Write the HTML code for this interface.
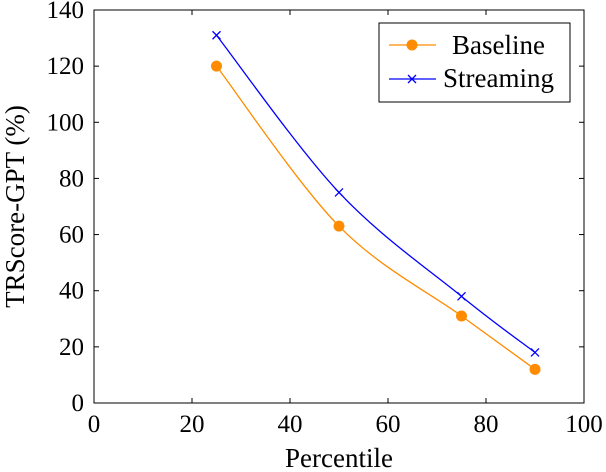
<!DOCTYPE html>
<html><head><meta charset="utf-8"><style>
html,body{margin:0;padding:0;background:#fff;}
svg{display:block;font-family:"Liberation Serif",serif;}
</style></head><body>
<svg id="chart" width="606" height="472" viewBox="0 0 606 472"></svg>
<script>
const categories=[25,50,75,90];
const baselineValues=[120,63,31,12];
const streamingValues=[131,75,38,18];
const xTickLabels=[0,20,40,60,80,100];
const yTickLabels=[0,20,40,60,80,100,120,140];

const L=94,R=584,T=10,B=403;
const xs=v=>L+(v-0)/100*(R-L);
const ys=v=>B-(v-0)/140*(B-T);
const svg=document.getElementById('chart');
const NS='http://www.w3.org/2000/svg';
function mk(tag,attrs,parent){const e=document.createElementNS(NS,tag);for(const k in attrs)e.setAttribute(k,attrs[k]);(parent||svg).appendChild(e);return e;}

const frame=mk('rect',{x:L,y:T,width:R-L,height:B-T,fill:'none',stroke:'#000','stroke-width':1});



xTickLabels.forEach(v=>{
  const x=xs(v);
  const t1=mk('line',{x1:x,y1:B,x2:x,y2:B-5,stroke:'#000'});
  
  
  const t2=mk('line',{x1:x,y1:T,x2:x,y2:T+5,stroke:'#000'});
  
  
  const tx=mk('text',{x:x,y:B+29,'text-anchor':'middle','font-size':25});
  tx.textContent=v;
  
  
});
yTickLabels.forEach(v=>{
  const y=ys(v);
  const t1=mk('line',{x1:L,y1:y,x2:L+5,y2:y,stroke:'#000'});
  
  
  const t2=mk('line',{x1:R,y1:y,x2:R-5,y2:y,stroke:'#000'});
  
  
  const tx=mk('text',{x:L-10,y:y+8,'text-anchor':'end','font-size':25});
  tx.textContent=v;
  
  
});
const xt=mk('text',{x:(L+R)/2,y:467,'text-anchor':'middle','font-size':27});
xt.textContent='Percentile';


const yt=mk('text',{x:0,y:0,'text-anchor':'middle','font-size':27,transform:`translate(24,${(T+B)/2}) rotate(-90)`});
yt.textContent='TRScore-GPT (%)';



function smoothPath(pts){
  let d=`M${pts[0][0]},${pts[0][1]}`;
  const k=0.5/3*2;
  for(let i=0;i<pts.length-1;i++){
    const p0=pts[i-1]||pts[i],p1=pts[i],p2=pts[i+1],p3=pts[i+2]||p2;
    const c1=[p1[0]+(p2[0]-p0[0])*k/2,p1[1]+(p2[1]-p0[1])*k/2];
    const c2=[p2[0]-(p3[0]-p1[0])*k/2,p2[1]-(p3[1]-p1[1])*k/2];
    d+=` C${c1[0]},${c1[1]} ${c2[0]},${c2[1]} ${p2[0]},${p2[1]}`;
  }
  return d;
}
const bPts=categories.map((c,i)=>[xs(c),ys(baselineValues[i])]);
const sPts=categories.map((c,i)=>[xs(c),ys(streamingValues[i])]);
const bl=mk('path',{d:smoothPath(bPts),fill:'none',stroke:'#ff8c00','stroke-width':1.3});


bPts.forEach(p=>{
  const c=mk('circle',{cx:p[0],cy:p[1],r:5.5,fill:'#ff8c00'});
  
  
});
const sl=mk('path',{d:smoothPath(sPts),fill:'none',stroke:'#0000ff','stroke-width':1.3});


sPts.forEach(p=>{
  const g=mk('path',{d:`M${p[0]-4},${p[1]-4}L${p[0]+4},${p[1]+4}M${p[0]-4},${p[1]+4}L${p[0]+4},${p[1]-4}`,stroke:'#0000ff','stroke-width':1.3});
  
  
});

const lg=mk('g',{});


mk('rect',{x:379,y:23,width:191,height:79,fill:'#fff',stroke:'#000'},lg);
mk('line',{x1:389,y1:45,x2:436,y2:45,stroke:'#ff8c00','stroke-width':1.3},lg);
mk('circle',{cx:412,cy:45,r:5.5,fill:'#ff8c00'},lg);
const lt1=mk('text',{x:452,y:54,'font-size':27},lg);lt1.textContent='Baseline';


mk('line',{x1:389,y1:79,x2:436,y2:79,stroke:'#0000ff','stroke-width':1.3},lg);
mk('path',{d:'M408,75L416,83M408,83L416,75',stroke:'#0000ff','stroke-width':1.3},lg);
const lt2=mk('text',{x:443,y:87,'font-size':27},lg);lt2.textContent='Streaming';


</script>
</body></html>
